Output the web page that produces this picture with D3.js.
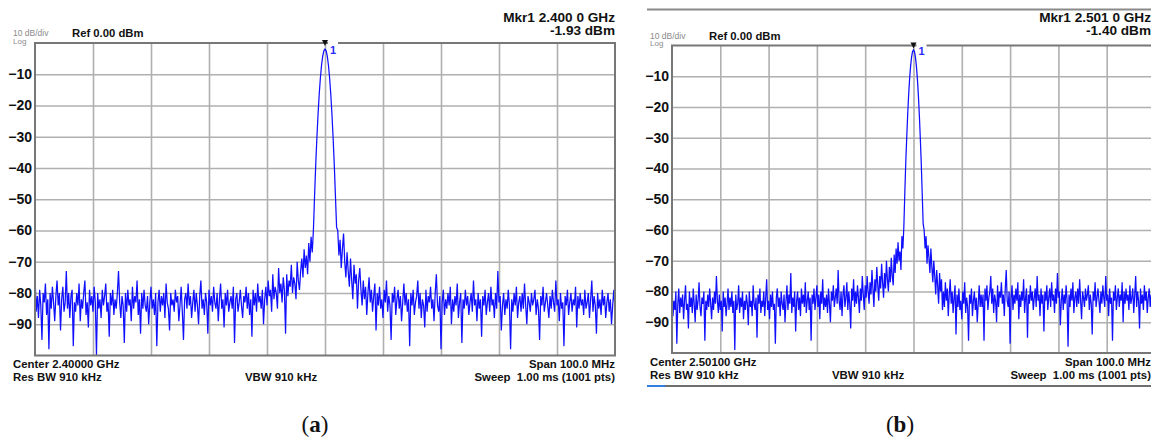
<!DOCTYPE html>
<html>
<head>
<meta charset="utf-8">
<script src="https://cdn.jsdelivr.net/npm/d3@7"></script>
<style>
  html, body { margin: 0; padding: 0; background: #fff; overflow: hidden; }
  svg { display: block; }
  text { font-family: "Liberation Sans", Arial, sans-serif; }
</style>
</head>
<body>
<svg id="chart" width="1151" height="439"></svg>
<script>
// ---- Data ----
const yTicks = [-10, -20, -30, -40, -50, -60, -70, -80, -90];
const xGridMHz = [-40, -30, -20, -10, 0, 10, 20, 30, 40];
const spanMHz = 100;

const captionLabels = ["a", "b"];
const centerLabels = ["Center 2.40000 GHz", "Center 2.50100 GHz"];
const markerFreqLabels = ["Mkr1 2.400 0 GHz", "Mkr1 2.501 0 GHz"];
const markerLevelLabels = ["-1.93 dBm", "-1.40 dBm"];
const markerLevels = [-1.93, -1.40];

// trace (a): 501 sweep points across the span, dBm
const traceA = [
  -74,-86,-81,-88,-79,-84,-95,-80,-83,-77,
  -87,-82,-98,-80,-85,-78,-83,-89,-81,-76,
  -84,-80,-92,-82,-78,-86,-83,-73,-85,-80,
  -88,-81,-79,-97,-83,-86,-80,-84,-77,-89,
  -82,-85,-80,-76,-87,-83,-91,-79,-84,-81,
  -86,-78,-83,-100,-80,-85,-82,-88,-79,-84,
  -81,-77,-86,-83,-94,-80,-84,-79,-87,-82,
  -85,-80,-73,-83,-88,-81,-84,-96,-80,-86,
  -79,-84,-82,-89,-78,-85,-81,-83,-76,-87,
  -82,-93,-80,-85,-79,-84,-86,-81,-90,-83,
  -78,-85,-82,-87,-80,-97,-83,-79,-86,-81,
  -84,-80,-88,-77,-83,-85,-92,-80,-84,-82,
  -86,-79,-83,-81,-89,-84,-78,-86,-95,-82,
  -80,-85,-77,-84,-81,-88,-83,-79,-86,-80,
  -84,-90,-81,-76,-85,-82,-87,-80,-83,-93,
  -79,-84,-81,-86,-78,-83,-85,-80,-89,-82,
  -77,-85,-82,-91,-80,-84,-79,-86,-83,-81,
  -85,-78,-96,-82,-80,-86,-83,-79,-84,-88,
  -81,-83,-78,-85,-80,-87,-82,-94,-79,-84,
  -80,-86,-77,-83,-81,-85,-79,-90,-82,-78,
  -84,-76,-81,-79,-86,-74,-82,-78,-80,-85,
  -72,-80,-77,-83,-75,-79,-93,-74,-81,-76,
  -78,-71,-80,-75,-77,-82,-70,-76,-79,-73,
  -69,-75,-66,-72,-68,-74,-64,-70,-62,-67,
  -60,-49,-39,-30.4,-22.9,-16.5,-11.3,-7.2,-4.3,-2.5,-1.93,-2.5,-4.3,-7.2,-11.3,-16.5,-22.9,-30.4,-39,-49,-59,
  -60,-68,-63,-72,-66,-61,-70,-75,-67,-73,
  -78,-69,-76,-82,-71,-77,-74,-85,-76,-72,
  -79,-84,-76,-82,-78,-87,-80,-75,-83,-79,
  -86,-81,-77,-92,-80,-84,-78,-85,-82,-88,
  -79,-83,-76,-86,-81,-84,-95,-80,-83,-78,
  -87,-82,-79,-85,-81,-89,-83,-77,-84,-80,
  -86,-82,-97,-80,-84,-79,-87,-83,-81,-76,
  -85,-80,-88,-82,-84,-91,-79,-86,-81,-83,
  -78,-85,-82,-89,-80,-74,-84,-86,-81,-98,
  -83,-79,-87,-82,-85,-80,-84,-78,-90,-82,
  -86,-81,-84,-77,-88,-83,-80,-96,-82,-85,
  -79,-84,-81,-87,-83,-80,-86,-76,-84,-82,
  -89,-80,-85,-82,-94,-81,-84,-79,-87,-83,
  -80,-86,-78,-84,-82,-88,-80,-85,-73,-83,
  -81,-92,-84,-80,-87,-82,-85,-79,-84,-98,
  -82,-86,-80,-84,-78,-88,-83,-81,-86,-80,
  -85,-77,-84,-90,-81,-83,-86,-80,-84,-82,
  -79,-87,-82,-85,-95,-81,-84,-78,-86,-83,
  -80,-84,-88,-81,-85,-79,-83,-86,-76,-84,
  -82,-89,-80,-85,-83,-97,-81,-84,-79,-87,
  -83,-80,-86,-82,-84,-78,-91,-81,-85,-80,
  -84,-82,-87,-79,-85,-83,-80,-88,-82,-76,
  -86,-81,-84,-93,-80,-85,-82,-87,-79,-84,
  -81,-88,-83,-80,-86,-82,-90,-84,-79,-85
];

// trace (b): 501 sweep points across the span, dBm
const traceB = [
  -78,-88,-83,-86,-80,-97,-84,-79,-87,-82,
  -85,-81,-89,-83,-78,-86,-84,-92,-80,-85,
  -82,-87,-79,-84,-90,-81,-86,-83,-77,-85,
  -88,-82,-84,-80,-96,-83,-86,-81,-85,-79,
  -84,-89,-82,-86,-80,-84,-75,-83,-87,-81,
  -86,-83,-93,-80,-85,-82,-88,-84,-79,-86,
  -82,-85,-80,-87,-83,-99,-81,-86,-84,-78,
  -87,-82,-85,-80,-89,-83,-86,-81,-84,-91,
  -80,-85,-83,-88,-78,-84,-86,-82,-95,-81,
  -84,-79,-87,-83,-85,-80,-88,-82,-76,-86,
  -83,-89,-81,-85,-80,-86,-84,-97,-82,-79,
  -85,-82,-88,-80,-84,-86,-81,-90,-83,-78,
  -86,-81,-84,-74,-87,-82,-85,-80,-93,-83,
  -80,-86,-82,-88,-79,-84,-81,-85,-77,-87,
  -83,-80,-86,-82,-96,-81,-84,-79,-86,-82,
  -78,-85,-81,-89,-80,-84,-76,-86,-82,-85,
  -81,-87,-79,-84,-90,-80,-83,-78,-85,-82,
  -79,-84,-73,-83,-86,-80,-88,-81,-78,-85,
  -82,-77,-86,-80,-84,-92,-79,-83,-76,-85,
  -80,-84,-78,-82,-87,-79,-83,-75,-81,-86,
  -78,-82,-75,-80,-84,-77,-81,-73,-79,-85,
  -76,-80,-72,-78,-83,-75,-79,-71,-77,-82,
  -74,-79,-70,-76,-80,-72,-77,-69,-75,-78,
  -68,-74,-66,-71,-64,-70,-67,-73,-62,-66,
  -59,-48,-38,-29.8,-22.3,-15.9,-10.7,-6.7,-3.8,-2.0,-1.40,-2.0,-3.8,-6.7,-10.7,-15.9,-22.3,-29.8,-38,-48,-58,
  -60,-66,-62,-71,-65,-69,-74,-66,-72,-77,
  -70,-75,-81,-73,-78,-84,-74,-80,-76,-86,
  -80,-85,-77,-83,-79,-88,-81,-76,-84,-80,
  -87,-82,-78,-94,-81,-85,-79,-86,-83,-89,
  -80,-84,-77,-87,-82,-85,-96,-81,-84,-79,
  -88,-83,-80,-86,-82,-90,-84,-78,-85,-81,
  -85,-81,-96,-79,-83,-78,-86,-82,-80,-75,
  -84,-79,-87,-81,-83,-90,-78,-85,-80,-82,
  -77,-84,-81,-88,-79,-73,-83,-85,-80,-97,
  -82,-78,-86,-81,-84,-79,-83,-77,-89,-81,
  -85,-80,-83,-76,-87,-82,-79,-95,-81,-84,
  -78,-83,-80,-86,-82,-79,-85,-75,-83,-81,
  -88,-79,-84,-81,-93,-80,-83,-78,-86,-82,
  -79,-85,-77,-83,-81,-87,-79,-84,-74,-82,
  -80,-91,-83,-79,-86,-81,-84,-78,-83,-98,
  -81,-85,-79,-83,-77,-87,-82,-80,-85,-79,
  -84,-76,-83,-89,-80,-82,-85,-79,-83,-81,
  -78,-86,-81,-84,-94,-80,-83,-77,-85,-82,
  -79,-83,-87,-80,-84,-78,-82,-85,-75,-83,
  -81,-88,-79,-84,-82,-96,-80,-83,-78,-86,
  -82,-79,-85,-81,-83,-77,-90,-80,-84,-79,
  -83,-81,-86,-78,-84,-82,-79,-87,-81,-75,
  -85,-80,-83,-92,-79,-84,-81,-86,-78,-83,
  -80,-87,-82,-79,-85,-81,-89,-83,-78,-84
];

// ---- Drawing ----
const svg = d3.select("#chart");

const panels = [
  { trace: traceA, left: 35, right: 615, top: 43, bottom: 355.5, textRight: 615,
    vbwX: 281, capX: 315, extra: false },
  { trace: traceB, left: 672, right: 1155, top: 45.5, bottom: 353, textRight: 1151,
    vbwX: 868, capX: 900, extra: true }
];

panels.forEach((p, k) => {
  const g = svg.append("g");
  const w = p.right - p.left, h = p.bottom - p.top;
  const x = d3.scaleLinear().domain([-spanMHz / 2, spanMHz / 2]).range([p.left, p.right]);
  const y = d3.scaleLinear().domain([0, -100]).range([p.top, p.bottom]);
  const n = p.trace.length;
  const freqOf = i => -spanMHz / 2 + i * spanMHz / (n - 1);

  // horizontal grid + labels
  const yAx = g.append("g").attr("transform", `translate(${p.left},0)`)
    .call(d3.axisLeft(y).tickValues(yTicks).tickSize(-w).tickPadding(3).tickFormat(d3.format("d")));
  yAx.select(".domain").remove();
  yAx.selectAll("line").attr("stroke", "#b0b0b0").attr("stroke-width", 1.6);
  yAx.selectAll("text").attr("fill", "#111")
    .style("font-weight", "bold").style("font-size", "14px")
    .style("font-family", '"Liberation Sans", Arial, sans-serif');

  // vertical grid
  const xAx = g.append("g").attr("transform", `translate(0,${p.bottom})`)
    .call(d3.axisBottom(x).tickValues(xGridMHz).tickSize(-h).tickFormat(""));
  xAx.select(".domain").remove();
  xAx.selectAll("line").attr("stroke", "#b0b0b0").attr("stroke-width", 1.6);

  // trace
  const clipId = "clip" + k;
  svg.append("clipPath").attr("id", clipId).append("rect")
    .attr("x", p.left).attr("y", p.top).attr("width", w).attr("height", h);
  const line = d3.line().x((d, i) => x(freqOf(i))).y(d => y(d));
  g.append("path").datum(p.trace).attr("clip-path", `url(#${clipId})`)
    .attr("fill", "none").attr("stroke", "#1010ff").attr("stroke-width", 1.25)
    .attr("stroke-linejoin", "miter").attr("d", line);

  // frame
  g.append("rect").attr("x", p.left).attr("y", p.top).attr("width", w).attr("height", h)
    .attr("fill", "none").attr("stroke", "#777").attr("stroke-width", 2);

  // marker
  const mx = x(0);
  g.append("rect").attr("x", mx + 3).attr("y", p.top - 2).attr("width", 10).attr("height", 4).attr("fill", "#fff");
  g.append("path").attr("d", `M${mx - 3},${p.top - 3}L${mx + 3},${p.top - 3}L${mx},${p.top + 3}Z`).attr("fill", "#111");
  g.append("text").attr("x", mx + 5).attr("y", y(markerLevels[k]) + 5).text("1")
    .attr("fill", "#2a2aff").style("font-size", "11px").style("font-weight", "bold");

  // header texts
  g.append("text").attr("x", p.left - 22).attr("y", p.top - 7).text("10 dB/div")
    .attr("fill", "#8a8a8a").style("font-size", "8.5px");
  g.append("text").attr("x", p.left - 22).attr("y", p.top + 0.5).text("Log")
    .attr("fill", "#8a8a8a").style("font-size", "8px");
  g.append("text").attr("x", p.left + 37).attr("y", p.top - 6).text("Ref 0.00 dBm")
    .attr("fill", "#111").style("font-size", "11.3px").style("font-weight", "bold");
  g.append("text").attr("x", p.textRight).attr("y", 22).attr("text-anchor", "end")
    .text(markerFreqLabels[k]).attr("fill", "#111").style("font-size", "13.6px").style("font-weight", "bold");
  g.append("text").attr("x", p.textRight).attr("y", 35).attr("text-anchor", "end")
    .text(markerLevelLabels[k]).attr("fill", "#111").style("font-size", "13.6px").style("font-weight", "bold");

  // footer texts
  const fs = "11.4px";
  g.append("text").attr("x", p.left - 22).attr("y", p.bottom + 12.5).text(centerLabels[k])
    .attr("fill", "#111").style("font-size", fs).style("font-weight", "bold");
  g.append("text").attr("x", p.left - 22).attr("y", p.bottom + 25.5).text("Res BW 910 kHz")
    .attr("fill", "#111").style("font-size", fs).style("font-weight", "bold");
  g.append("text").attr("x", p.vbwX).attr("y", p.bottom + 25.5).attr("text-anchor", "middle").text("VBW 910 kHz")
    .attr("fill", "#111").style("font-size", fs).style("font-weight", "bold");
  g.append("text").attr("x", p.textRight).attr("y", p.bottom + 12.5).attr("text-anchor", "end").text("Span 100.0 MHz")
    .attr("fill", "#111").style("font-size", fs).style("font-weight", "bold");
  g.append("text").attr("x", p.textRight).attr("y", p.bottom + 25.5).attr("text-anchor", "end")
    .style("white-space", "pre").text("Sweep  1.00 ms (1001 pts)")
    .attr("fill", "#111").style("font-size", fs).style("font-weight", "bold");

  // extra frame lines of the screenshot (b)
  if (p.extra) {
    g.append("line").attr("x1", 647).attr("x2", 1151).attr("y1", 9.5).attr("y2", 9.5)
      .attr("stroke", "#8a8a8a").attr("stroke-width", 2);
    g.append("line").attr("x1", 647).attr("x2", 1151).attr("y1", 386).attr("y2", 386)
      .attr("stroke", "#6e6e6e").attr("stroke-width", 2);
    g.append("line").attr("x1", 647).attr("x2", 665).attr("y1", 386).attr("y2", 386)
      .attr("stroke", "#2f7fe0").attr("stroke-width", 2);
  }

  // caption
  const cap = svg.append("text").attr("x", p.capX).attr("y", 432).attr("text-anchor", "middle")
    .style("font-size", "23px").style("font-family", '"Liberation Serif", "DejaVu Serif", serif').attr("fill", "#111");
  cap.append("tspan").text("(");
  cap.append("tspan").style("font-weight", "bold").text(captionLabels[k]);
  cap.append("tspan").text(")");
});
</script>
</body>
</html>
